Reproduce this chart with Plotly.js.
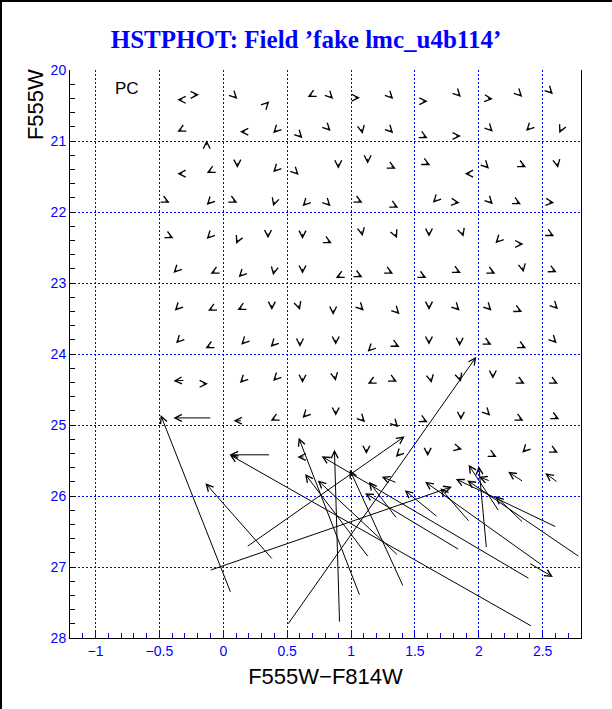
<!DOCTYPE html>
<html><head><meta charset="utf-8">
<script src="https://cdn.plot.ly/plotly-3.0.1.min.js"></script>
<style>
html,body{margin:0;padding:0;background:#fff}
#wrap{position:relative;width:612px;height:709px}
#frame{position:absolute;left:0;top:0;width:612px;height:709px;box-sizing:border-box;border-left:2px solid #000;border-top:2px solid #000;pointer-events:none}
</style>
</head><body>
<div id="wrap"><div id="plot" style="width:612px;height:709px"></div><div id="frame"></div></div>
<script>
// Recovered (arrow tip) colour and magnitude, and the shift (tip - input) for the small-error fake stars
const smallColor = [
 -0.36,-0.19,0.11,0.36,0.66,0.86,1.07,1.33,1.60,1.86,2.11,2.34,2.58,
 -0.36,-0.13,0.13,0.39,0.62,0.84,1.09,1.33,1.60,1.86,2.11,2.37,2.63,
 -0.36,-0.13,0.11,0.39,0.59,0.90,1.13,1.35,1.62,1.89,2.08,2.37,2.62,
 -0.42,-0.13,0.11,0.39,0.62,0.84,1.09,1.37,1.64,1.85,2.11,2.33,2.59,
 -0.39,-0.13,0.10,0.35,0.62,0.85,1.09,1.36,1.61,1.88,2.13,2.35,2.59,
 -0.39,-0.10,0.12,0.39,0.62,0.88,1.09,1.33,1.59,1.86,2.13,2.35,2.61,
 -0.38,-0.12,0.11,0.38,0.60,0.86,1.10,1.38,1.61,1.85,2.10,2.34,2.62,
 -0.37,-0.14,0.14,0.37,0.60,0.88,1.13,1.38,1.61,1.85,2.10,2.37,2.61,
 -0.39,-0.12,0.13,0.39,0.62,0.88,1.13,1.36,1.63,1.86,2.11,2.36,2.62,
 -0.39,0.08,0.37,0.62,0.88,1.11,1.37,1.60,1.86,2.09,2.35,2.63,
 0.58,1.12,1.35,1.60,1.87,2.14,2.34,2.62,
 1.24,2.23,2.52,2.58,2.00
];
const smallMag = [
 20.42,20.35,20.41,20.44,20.38,20.41,20.39,20.41,20.44,20.38,20.41,20.38,20.34,
 20.87,20.99,20.87,20.89,20.96,20.86,20.90,20.89,20.96,20.93,20.87,20.86,20.89,
 21.46,21.45,21.38,21.44,21.48,21.39,21.32,21.39,21.34,21.46,21.39,21.37,21.38,
 21.87,21.90,21.87,21.92,21.92,21.92,21.87,21.94,21.87,21.87,21.89,21.89,21.87,
 22.37,22.38,22.45,22.37,22.38,22.44,22.34,22.37,22.35,22.35,22.44,22.45,22.34,
 22.86,22.87,22.92,22.89,22.87,22.93,22.92,22.87,22.93,22.86,22.87,22.85,22.85,
 23.39,23.39,23.38,23.38,23.38,23.45,23.39,23.44,23.38,23.39,23.39,23.41,23.37,
 23.85,23.92,23.87,23.90,23.90,23.87,23.97,23.90,23.87,23.89,23.87,23.92,23.85,
 24.38,24.42,24.41,24.38,24.41,24.38,24.42,24.39,24.41,24.39,24.35,24.42,24.42,
 24.90,24.94,24.94,24.90,24.87,24.96,25.03,24.96,24.93,24.87,24.94,24.92,
 25.45,25.41,25.45,25.44,25.34,25.45,25.39,25.39,
 25.73,25.66,25.68,27.14,25.73
];
const smallDColor = [
 -0.05,0.05,0.035,0.035,-0.045,0.035,0.05,0.035,0.05,0.035,0.05,0.035,0.035,
 -0.045,0,-0.05,-0.035,0.035,0.035,0.01,0.035,0.045,0.05,0.035,-0.035,-0.02,
 -0.05,-0.045,0,-0.035,0.035,0,0,0.045,0.045,-0.05,0.035,0.045,0.01,
 0.045,-0.035,0.045,-0.015,-0.035,0.035,0.045,0.045,-0.035,0.05,0.035,0.045,0.05,
 0.045,-0.035,-0.02,0,0,0.045,0.01,0.02,0,0.015,-0.035,0.05,0.045,
 -0.035,-0.045,-0.035,-0.01,0,-0.045,0.045,0.045,0.045,0.045,0.045,0.01,0.045,
 -0.035,-0.045,-0.045,0,0.015,0,0.035,0.035,0,0.035,0.035,0.045,0.035,
 -0.035,-0.045,-0.035,-0.035,0,0,-0.035,0.045,0,0,0.045,0.045,0.035,
 -0.09,0.05,-0.035,-0.035,0,0.01,-0.045,0.045,0.01,0.015,0,0.045,0.045,
 -0.30,-0.07,-0.045,-0.035,0,0.035,0.035,0.045,0,0.035,0.045,0.045,
 -0.06,0,-0.035,0,0.05,0.045,-0.035,0.045,
 -0.12,-0.12,-0.10,0.19,-0.09
];
const smallDMag = [
 0,0,0.065,-0.065,0.04,0.065,0,0.065,0,0.065,0.01,0.065,0.065,
 0.04,-0.09,0,0.065,0.065,0.065,0.09,0.065,0.04,0,0.065,0.065,0.08,
 0,0.04,0.09,0.065,0.065,0.09,0.09,0.04,0.04,0,0.065,0.04,0.09,
 0.04,0.065,0.04,0.085,0.065,0.065,0.04,0.04,0.065,0.01,0.065,0.04,0.01,
 0.04,0.065,0.08,0.09,0.09,0.04,0.09,0.08,0.09,0.085,0.065,0,0.04,
 0.065,0.04,0.065,0.09,0.09,0.04,0.04,0.04,0.04,0.04,0.04,0.09,0.04,
 0.065,0.04,0.04,0.09,0.085,0.09,0.065,0.065,0.09,0.065,0.065,0.04,0.065,
 0.065,0.04,0.065,0.065,0.09,0.09,0.065,0.04,0.09,0.09,0.04,0.04,0.065,
 0.01,0,0.065,0.065,0.09,0.09,0.04,0.04,0.09,0.085,0.09,0.04,0.04,
 0,0,0.04,0.065,0.09,0.065,0.065,0.04,0.09,0.065,0.04,0.04,
 0,0.09,0.065,0.09,0.02,0.04,0.065,0.04,
 -0.085,-0.14,-0.13,0.20,-0.06
];
// Large-error fake stars
const bigColor = [-0.49,0.05,0.05,-0.14,1.42,1.79,1.98,0.87,0.59,0.64,0.74,0.77,0.99,1.11,1.14,1.42,1.58,1.70,2.00,1.92,2.13,1.82,1.91];
const bigMag   = [24.86,25.42,25.42,25.82,25.16,25.87,24.04,25.35,25.18,25.69,25.78,25.44,25.63,25.96,25.80,25.92,25.80,25.89,25.58,25.56,26.00,25.76,25.78];
const bigDColor = [-0.55,-0.32,-2.37,-0.53,1.24,1.90,1.48,-0.04,-0.48,-0.50,-0.63,-1.63,-0.42,-0.74,-0.22,-0.26,-0.92,-0.23,-0.06,-0.24,-0.22,-0.79,-0.88];
const bigDMag   = [-2.51,0,-2.42,-1.08,-1.56,-1.18,-3.78,-2.44,-2.23,-1.18,-1.06,-1.73,-1.65,-0.80,-0.52,-0.38,-1.18,-0.48,-1.16,-0.66,-0.38,-0.68,-1.08];

const xTickVals = [-1,-0.5,0,0.5,1,1.5,2,2.5];
const yTickVals = [20,21,22,23,24,25,26,27,28];

function arrowSet(cx, cm, dcx, dcm){
  return cx.map((x,i)=>({
    x:x, y:cm[i], ax:x-dcx[i], ay:cm[i]-dcm[i],
    xref:'x', yref:'y', axref:'x', ayref:'y',
    text:'', showarrow:true, arrowhead:5, arrowsize:1.35, arrowwidth:1,
    arrowcolor:'#000', standoff:0, startstandoff:0
  }));
}

const annotations = arrowSet(smallColor, smallMag, smallDColor, smallDMag)
  .concat(arrowSet(bigColor, bigMag, bigDColor, bigDMag));

const thinFont = 'Liberation Sans Narrow, Liberation Sans, Arial, sans-serif';
annotations.push({text:'PC', x:-0.75, y:20.26, xref:'x', yref:'y', showarrow:false,
  font:{family:thinFont, size:17, color:'#000'}});
annotations.push({text:'F555W', x:-0.0685, y:0.94, xref:'paper', yref:'paper', showarrow:false,
  textangle:-90, xanchor:'center', yanchor:'middle',
  font:{family:thinFont, size:22, color:'#000'}});

const trace = {x:[], y:[], type:'scatter', mode:'markers', showlegend:false, hoverinfo:'skip'};

const layout = {
  width:612, height:709,
  margin:{l:70, r:31, t:70, b:71},
  paper_bgcolor:'#fff', plot_bgcolor:'#fff',
  title:{text:'HSTPHOT: Field \u2019fake lmc_u4b114\u2019', x:0.5, xref:'container', xanchor:'center',
    y:0.944, yref:'container', yanchor:'middle',
    font:{family:'Liberation Serif, Times New Roman, serif', size:25, color:'#0000ff', weight:'bold'}},
  xaxis:{range:[-1.2,2.8], tickvals:xTickVals, ticks:'inside', ticklen:6, tickcolor:'#0000ff',
    showline:true, linecolor:'#000', linewidth:1, mirror:false,
    showgrid:true, gridcolor:'#0000ff', griddash:'2px,2px', gridwidth:1, zeroline:false,
    tickfont:{family:'Liberation Sans, Arial, sans-serif', size:14, color:'#0000ff'},
    minor:{dtick:0.1, ticks:'inside', ticklen:5, tickcolor:'#0000ff', showgrid:false},
    title:{text:'F555W\u2212F814W', standoff:10,
      font:{family:thinFont, size:22, color:'#000'}}},
  yaxis:{range:[28,20], tickvals:yTickVals, ticks:'inside', ticklen:6, tickcolor:'#000',
    showline:true, linecolor:'#000', linewidth:1, mirror:true,
    showgrid:true, gridcolor:'#0000ff', griddash:'2px,2px', gridwidth:1, zeroline:false,
    tickfont:{family:'Liberation Sans, Arial, sans-serif', size:14, color:'#0000ff'},
    minor:{dtick:0.2, ticks:'inside', ticklen:5, tickcolor:'#000', showgrid:false}},
  annotations:annotations,
  showlegend:false
};

Plotly.newPlot('plot', [trace], layout, {displayModeBar:false, staticPlot:true});
</script>
</body></html>
